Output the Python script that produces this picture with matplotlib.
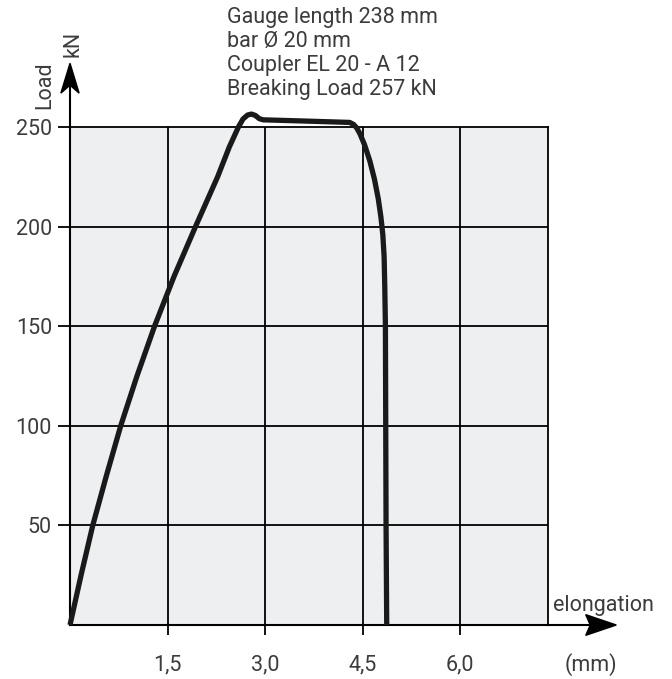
import matplotlib.pyplot as plt
from matplotlib.patches import Polygon

# load-elongation curve
elong = [0, 0.17, 0.35, 0.56, 0.78, 1.03, 1.30, 1.60, 1.93, 2.27, 2.45, 2.59, 2.66, 2.73, 2.79, 2.85, 2.91, 2.97, 3.6, 4.30, 4.36, 4.41, 4.46, 4.53, 4.61, 4.68, 4.74, 4.78, 4.81, 4.83, 4.84, 4.85, 4.86, 4.87]
load = [0, 25, 50, 75, 100, 125, 150, 175, 200, 225, 240, 250, 254, 256, 256.5, 255.8, 254.2, 253.6, 253, 252.3, 251.3, 249.5, 246.5, 241, 233, 224, 214, 205, 196, 185, 170, 150, 50, 0]

xticks = [1.5, 3.0, 4.5, 6.0]
xlabels = ['1,5', '3,0', '4,5', '6,0']
yticks = [50, 100, 150, 200, 250]
info = ['Gauge length 238 mm', 'bar Ø 20 mm', 'Coupler EL 20 - A 12', 'Breaking Load 257 kN']

plt.rcParams['font.family'] = ['Roboto', 'DejaVu Sans']
txt = '#3c3c3c'
fs = 15.5

fig = plt.figure(figsize=(6.72, 6.79), dpi=100)
W, H = 672, 679
# data box: x 70..548 px, y 127..625 px
ax = fig.add_axes([70 / W, 1 - 625 / H, (548 - 70) / W, (625 - 127) / H])
ax.set_xlim(0, 7.35)
ax.set_ylim(0, 250)
ax.set_facecolor('#eeeff1')

for s in ['left', 'bottom']:
    ax.spines[s].set_linewidth(1.5)
for s in ['top', 'right']:
    ax.spines[s].set_linewidth(1.3)

for x in xticks:
    ax.axvline(x, color='k', lw=1.3, zorder=1)
for y in yticks[:-1]:
    ax.axhline(y, color='k', lw=1.3, zorder=1)

ax.plot(elong, load, color='#1a1a1a', lw=3.8, solid_joinstyle='round', solid_capstyle='butt', zorder=3, clip_on=False)

ax.set_xticks(xticks)
ax.set_xticklabels(xlabels)
ax.set_yticks(yticks)
ax.tick_params(axis='x', length=7, width=1.3, pad=14, labelsize=fs, labelcolor=txt)
ax.tick_params(axis='y', length=9, width=1.3, pad=4, labelsize=fs, labelcolor=txt)

# axis extensions with notched arrow heads
ax.plot([0, 0], [250, 272], color='k', lw=1.5, clip_on=False)
ax.plot([7.35, 7.98], [0, 0], color='k', lw=1.5, clip_on=False)
ax.add_patch(Polygon([(0, 282), (-0.14, 267), (0, 271), (0.14, 267)], closed=True,
                     color='k', clip_on=False, zorder=4))
ax.add_patch(Polygon([(8.4, 0), (7.93, 5.2), (8.0, 0), (7.93, -5.2)], closed=True,
                     color='k', clip_on=False, zorder=4))

fig.text(553 / W, 1 - 605 / H, 'elongation', fontsize=fs, color=txt, va='center', ha='left')
fig.text(565 / W, 1 - 665 / H, '(mm)', fontsize=fs, color=txt, va='center', ha='left')
fig.text(45 / W, 1 - 85 / H, 'Load', fontsize=fs, color=txt, rotation=90, va='center', ha='center')
fig.text(73 / W, 1 - 44 / H, 'kN', fontsize=fs, color=txt, rotation=90, va='center', ha='center')

for i, line in enumerate(info):
    fig.text(227 / W, 1 - (18 + 24 * i) / H, line, fontsize=fs, color=txt, va='center', ha='left')

fig.savefig('out.png', dpi=100, facecolor='white')
